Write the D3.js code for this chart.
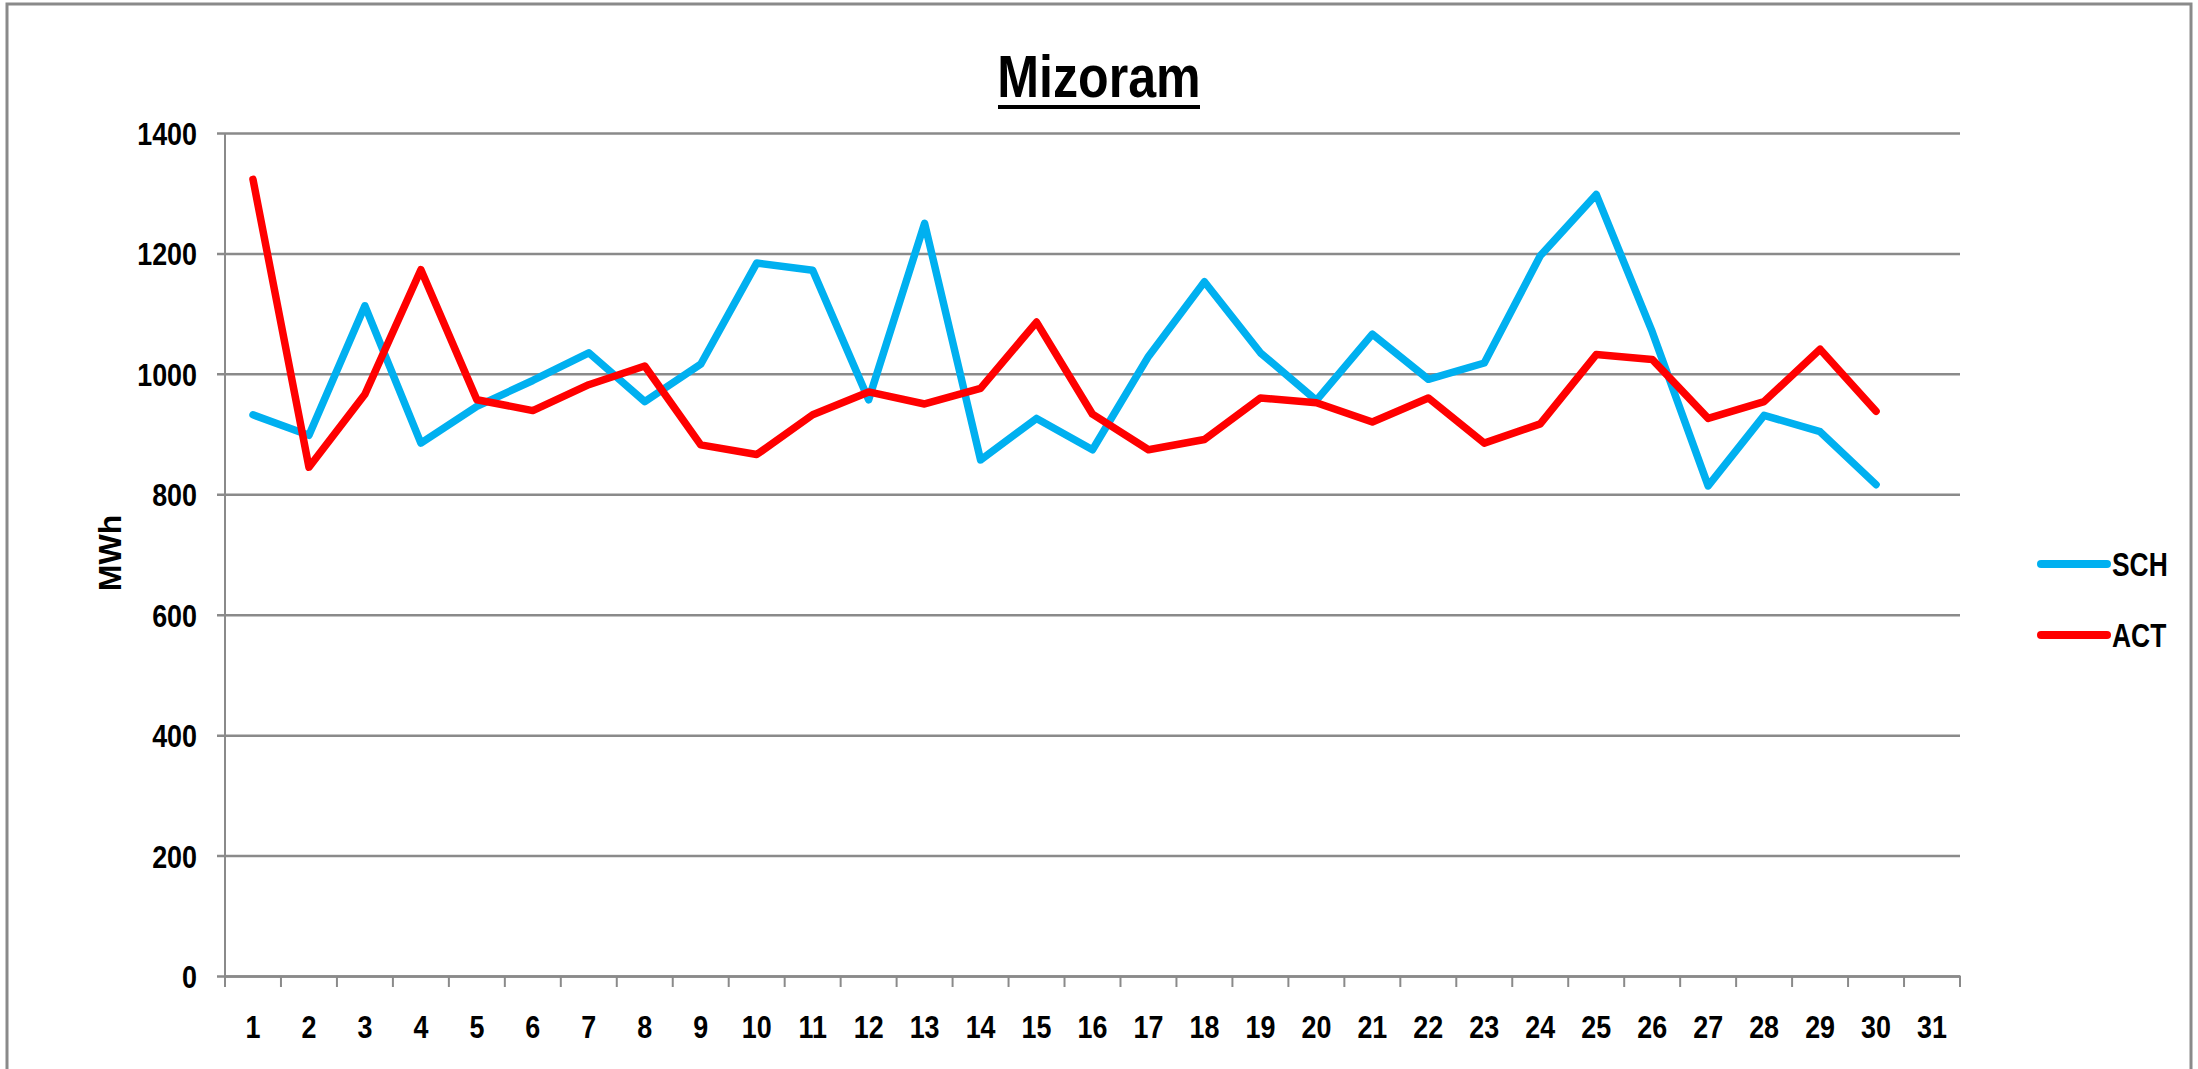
<!DOCTYPE html>
<html>
<head>
<meta charset="utf-8">
<script src="https://cdn.jsdelivr.net/npm/d3@7"></script>
<style>
    body { margin: 0; background: #fff; }
    text { font-family: "Liberation Sans", Arial, sans-serif; font-weight: bold; fill: #000; }
</style>
</head>
<body>
<div id="chartContainer"></div>
<script>

///data
var days = [1, 2, 3, 4, 5, 6, 7, 8, 9, 10, 11, 12, 13, 14, 15, 16, 17, 18, 19, 20, 21, 22, 23, 24, 25, 26, 27, 28, 29, 30, 31];
var sch = [932, 898, 1113, 885, 946, 989, 1035, 954, 1016, 1184, 1172, 957, 1250, 857, 926, 874, 1029, 1153, 1035, 956,
    1066, 991, 1018, 1196, 1298, 1070, 814, 931, 904, 816];
var act = [1323, 845, 966, 1173, 957, 939, 982, 1013, 882, 866, 932, 970, 950, 976, 1086, 933, 874, 891, 960, 952,
    920, 960, 885, 917, 1032, 1024, 926, 954, 1041, 938];
var yTicks = [0, 200, 400, 600, 800, 1000, 1200, 1400];
var seriesNames = ["SCH", "ACT"];
var seriesColors = ["#00b0f0", "#ff0000"];

///set margins
var W = 2198, H = 1069;
var margin = {top: 133, right: 238, bottom: 93, left: 225};
var width = W - margin.left - margin.right;
var height = H - margin.top - margin.bottom;
var gridColor = "#8a8a8a";

//squeeze text a bit, the original is drawn in a narrow font
function squeeze(sel, k) {
    sel.each(function() {
        var w = this.getComputedTextLength();
        d3.select(this).attr("textLength", w * k).attr("lengthAdjust", "spacingAndGlyphs");
    });
}

var svg = d3.select("#chartContainer")
    .append("svg")
    .attr("width", W)
    .attr("height", H);

svg.append("rect")
    .attr("width", W).attr("height", H)
    .attr("fill", "#fff");

//outer frame
svg.append("rect")
    .attr("x", 7).attr("y", 4)
    .attr("width", 2184).attr("height", H + 20)
    .attr("fill", "none")
    .attr("stroke", gridColor)
    .attr("stroke-width", 3);

var g = svg.append("g")
    .attr("transform", "translate(" + margin.left + "," + margin.top + ")");

var x = d3.scaleBand().domain(days).range([0, width]);
var y = d3.scaleLinear().domain([0, 1400]).range([height, 0]);

// y axis + gridlines
var yAxis = g.append("g")
    .call(d3.axisLeft(y).tickValues(yTicks).tickFormat(d3.format("d")).tickSize(-width));
yAxis.select(".domain").remove();
yAxis.selectAll(".tick line")
    .attr("x1", -8)
    .attr("stroke", gridColor)
    .attr("stroke-width", 2.5);
yAxis.selectAll(".tick text")
    .attr("x", -28)
    .attr("dy", "0.36em")
    .style("font-size", "32px")
    .call(squeeze, 0.84);

g.append("line")
    .attr("x1", 0).attr("x2", 0)
    .attr("y1", 0).attr("y2", height)
    .attr("stroke", gridColor)
    .attr("stroke-width", 2);

// x axis, labels at band centres
var xAxis = g.append("g")
    .attr("transform", "translate(0," + height + ")")
    .call(d3.axisBottom(x).tickSize(0));
xAxis.select(".domain")
    .attr("stroke", gridColor)
    .attr("stroke-width", 2.5);
xAxis.selectAll(".tick text")
    .attr("y", 62)
    .attr("dy", null)
    .style("font-size", "32px")
    .call(squeeze, 0.84);

// tick marks on the band edges
var edges = days.map(function(d) { return x(d); }).concat([width]);
g.append("g")
    .selectAll("line")
    .data(edges)
    .enter().append("line")
    .attr("x1", function(d) { return d; })
    .attr("x2", function(d) { return d; })
    .attr("y1", height)
    .attr("y2", height + 11)
    .attr("stroke", gridColor)
    .attr("stroke-width", 2);

// the two series
var line = d3.line()
    .x(function(d) { return x(d.day) + x.bandwidth() / 2; })
    .y(function(d) { return y(d.v); });

[sch, act].forEach(function(vals, i) {
    var pts = vals.map(function(v, j) { return {day: days[j], v: v}; });
    g.append("path")
        .datum(pts)
        .attr("d", line)
        .attr("fill", "none")
        .attr("stroke", seriesColors[i])
        .attr("stroke-width", 7.5)
        .attr("stroke-linejoin", "round")
        .attr("stroke-linecap", "round");
});

// y axis title
svg.append("text")
    .attr("transform", "translate(121,553) rotate(-90)")
    .attr("text-anchor", "middle")
    .style("font-size", "32px")
    .text("MWh");

// title
svg.append("text")
    .attr("x", 1099).attr("y", 97)
    .attr("text-anchor", "middle")
    .style("font-size", "59px")
    .text("Mizoram")
    .call(squeeze, 0.85);
svg.append("line")
    .attr("x1", 998).attr("x2", 1200)
    .attr("y1", 107).attr("y2", 107)
    .attr("stroke", "#000")
    .attr("stroke-width", 4);

// legend
var legend = svg.append("g")
    .selectAll("g")
    .data(seriesNames)
    .enter().append("g")
    .attr("transform", function(d, i) { return "translate(2041," + (564 + i * 71) + ")"; });

legend.append("line")
    .attr("x1", 0).attr("x2", 66)
    .attr("stroke", function(d, i) { return seriesColors[i]; })
    .attr("stroke-width", 8)
    .attr("stroke-linecap", "round");

legend.append("text")
    .attr("x", 71)
    .attr("dy", "0.37em")
    .style("font-size", "33px")
    .text(function(d) { return d; })
    .call(squeeze, 0.8);

</script>
</body>
</html>
